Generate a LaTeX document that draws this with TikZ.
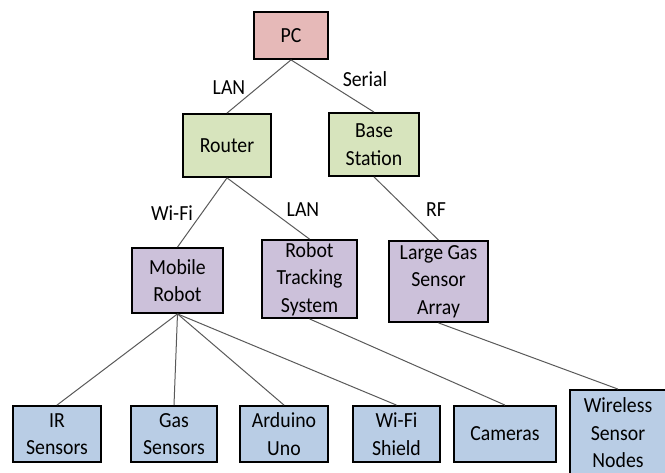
\documentclass[tikz,border=0pt]{standalone}
\usepackage{fontspec}
\setmainfont{Carlito}[FakeStretch=0.92]
\usetikzlibrary{positioning}

\definecolor{pcred}{HTML}{E6B9B8}
\definecolor{netgreen}{HTML}{D7E4BD}
\definecolor{devpurple}{HTML}{CCC1DA}
\definecolor{partblue}{HTML}{B9CDE5}

\begin{document}
\begin{tikzpicture}[x=1pt, y=-1pt,
  box/.style={draw=black, line width=1.8pt, inner sep=0pt, align=center,
              font=\fontsize{21.5}{27.5}\selectfont},
  link/.style={draw=black!65, line width=1pt},
  lbl/.style={inner sep=0pt, font=\fontsize{21.5}{27.5}\selectfont}]

 \useasboundingbox (0,0) rectangle (665,473);

 % level 0
 \node[box, fill=pcred, minimum width=74, minimum height=47] (pc) at (291,35.5) {PC};

 % level 1
 \node[box, fill=netgreen, minimum width=88, minimum height=63] (router) at (227,145.5) {Router};
 \node[box, fill=netgreen, minimum width=90, minimum height=63] (base) at (374,144.5) {Base\\Station};

 % level 2
 \node[box, fill=devpurple, minimum width=91, minimum height=65] (mobile) at (177.5,280.5) {Mobile\\Robot};
 \node[box, fill=devpurple, minimum width=95, minimum height=78] (tracking) at (309.5,279) {Robot\\Tracking\\System};
 \node[box, fill=devpurple, minimum width=99, minimum height=81] (gasarray) at (438.5,281.5) {Large Gas\\Sensor\\Array};

 % level 3
 \foreach \name/\x/\w/\la/\lb in {ir/57/88/IR/Sensors, gas/174/86/Gas/Sensors,
                                  arduino/284/88/Arduino/Uno, wifi/396.5/87/Wi-Fi/Shield} {
   \node[box, fill=partblue, minimum width=\w, minimum height=56] (\name) at (\x,434) {\la\\\lb};
 }
 \node[box, fill=partblue, minimum width=102, minimum height=56] (cameras) at (505,434) {Cameras};
 \node[box, fill=partblue, minimum width=96, minimum height=86] (wsn) at (618,433) {Wireless\\Sensor\\Nodes};

 % lines
 \foreach \source/\dest in {pc/router, pc/base, router/mobile, router/tracking, base/gasarray,
                            mobile/ir, mobile/gas, mobile/arduino, mobile/wifi,
                            tracking/cameras, gasarray/wsn}
   \path[link] (\source.south) -- (\dest.north);

 % link labels
 \node[lbl] (lanpc) at (229,88) {LAN};
 \node[lbl] (serial) at (365,79) {Serial};
 \node[lbl] (wifilink) at (172,213) {Wi-Fi};
 \node[lbl] (lanrouter) at (303,210) {LAN};
 \node[lbl] (rf) at (436,210) {RF};

\end{tikzpicture}
\end{document}
